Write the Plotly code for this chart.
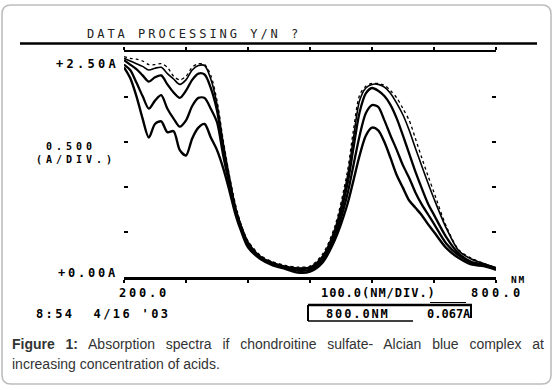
import json
import plotly.graph_objects as go

# ---------------- data ----------------
wavelength = [200, 210, 220, 230, 240, 250, 260, 270, 280, 290, 300, 310, 320, 330, 340,
              350, 360, 370, 380, 390, 400,
              420, 440, 460, 480, 500, 520, 540,
              560, 570, 580, 590, 600, 610, 620, 630, 640, 650, 660, 670, 680, 690, 700,
              720, 740, 760, 780, 800]

absorb_1 = [2.45, 2.43, 2.42, 2.40, 2.36, 2.36, 2.37, 2.33, 2.23, 2.19, 2.23, 2.33, 2.37, 2.36, 2.24,
            1.96, 1.52, 1.13, 0.80, 0.56, 0.40,
            0.24, 0.17, 0.13, 0.11, 0.12, 0.25, 0.56,
            1.16, 1.63, 2.02, 2.12, 2.15, 2.15, 2.13, 2.07, 1.99, 1.87, 1.74, 1.54, 1.33, 1.13, 0.94,
            0.56, 0.30, 0.21, 0.15, 0.10]
absorb_2 = [2.43, 2.40, 2.37, 2.34, 2.30, 2.32, 2.33, 2.26, 2.20, 2.14, 2.19, 2.30, 2.35, 2.35, 2.20,
            1.92, 1.49, 1.11, 0.77, 0.55, 0.39,
            0.23, 0.16, 0.12, 0.10, 0.11, 0.23, 0.53,
            1.10, 1.54, 1.96, 2.10, 2.14, 2.14, 2.11, 2.04, 1.93, 1.80, 1.63, 1.43, 1.24, 1.05, 0.87,
            0.54, 0.29, 0.20, 0.15, 0.10]
absorb_3 = [2.41, 2.36, 2.31, 2.24, 2.17, 2.22, 2.24, 2.14, 2.05, 1.99, 2.07, 2.19, 2.26, 2.25, 2.10,
            1.85, 1.43, 1.07, 0.75, 0.54, 0.37,
            0.22, 0.15, 0.11, 0.09, 0.10, 0.21, 0.50,
            1.02, 1.43, 1.83, 2.04, 2.10, 2.07, 2.01, 1.91, 1.76, 1.57, 1.37, 1.17, 0.99, 0.82, 0.69,
            0.44, 0.26, 0.17, 0.14, 0.10]
absorb_4 = [2.36, 2.30, 2.16, 2.01, 1.87, 1.96, 2.02, 1.87, 1.76, 1.67, 1.74, 1.90, 1.99, 1.99, 1.87,
            1.72, 1.35, 1.03, 0.73, 0.52, 0.36,
            0.21, 0.14, 0.10, 0.07, 0.08, 0.19, 0.45,
            0.91, 1.24, 1.57, 1.82, 1.91, 1.89, 1.74, 1.57, 1.41, 1.24, 1.10, 0.94, 0.81, 0.70, 0.59,
            0.37, 0.24, 0.16, 0.13, 0.09]
absorb_5 = [2.33, 2.21, 2.01, 1.76, 1.55, 1.70, 1.73, 1.61, 1.62, 1.41, 1.35, 1.54, 1.66, 1.70, 1.55,
            1.41, 1.21, 0.96, 0.69, 0.49, 0.33,
            0.20, 0.13, 0.09, 0.05, 0.06, 0.16, 0.41,
            0.80, 1.07, 1.35, 1.57, 1.66, 1.63, 1.50, 1.32, 1.13, 0.99, 0.85, 0.77, 0.69, 0.59, 0.50,
            0.32, 0.21, 0.14, 0.12, 0.08]

x_range = [200, 800]
y_range = [0, 2.5]
x_dtick = 100
y_dtick = 0.5

header_text = "DATA PROCESSING Y/N ?"
y_top_label = "+2.50A"
y_scale_label = " 0.500<br>(A/DIV.)"
y_zero_label = "+0.00A"
x_start_label = "200.0"
x_scale_label = "100.0(NM/DIV.)"
x_end_label = "800.0"
x_unit_label = "NM"
stamp_text = "8:54  4/16 '03"
cursor_wl = "800.0NM"
cursor_abs = "0.067A"
caption_1 = "<b>Figure 1:</b> Absorption spectra if chondroitine sulfate- Alcian blue complex at"
caption_2 = "increasing concentration of acids."

# ---------------- layout geometry ----------------
W, H = 555, 390
ML, MR, MT, MB = 124, 59, 52, 113
PW, PH = W - ML - MR, H - MT - MB


def px(x):
    return (x - ML) / PW


def py(y):
    return (H - MB - y) / PH


fig = go.Figure()

series = [absorb_1, absorb_2, absorb_3, absorb_4, absorb_5]
styles = [dict(width=1.3, dash="dot"), dict(width=1.6), dict(width=2.3), dict(width=2.3), dict(width=2.4)]
for s, st in zip(series, styles):
    fig.add_trace(go.Scatter(x=wavelength, y=s, mode="lines",
                             line=dict(color="black", shape="spline", smoothing=0.8, **st),
                             showlegend=False, hoverinfo="skip"))

MONO = "DejaVu Sans Mono"
anns = []


def ann(text, x, y, size=12, weight="bold", family=MONO, color="black", xanchor="left"):
    anns.append(dict(text=text, x=px(x), y=py(y), xref="paper", yref="paper",
                     xanchor=xanchor, yanchor="middle", align="left", showarrow=False,
                     borderpad=0,
                     font=dict(family=family, size=size, color=color, weight=weight)))


ann(header_text, 86, 33.5, weight="normal", color="#222")
ann(y_top_label, 55, 64)
ann(y_scale_label, 35, 152.5, size=10)
ann(y_zero_label, 57, 272.5)
ann(x_start_label, 118, 292.5)
ann(x_scale_label, 320, 292.5)
ann(x_end_label, 470, 293)
ann(x_unit_label, 510, 279.5, size=9.5)
ann(stamp_text, 35, 313.5)
ann(cursor_wl, 325, 314)
ann(cursor_abs, 426, 314)
ann(caption_1, 11, 344, size=14, weight="normal", family="Liberation Sans, Arial", color="#333")
ann(caption_2, 11, 363.5, size=14, weight="normal", family="Liberation Sans, Arial", color="#333")

# character pitch (px per character) of the printer-style labels
pitch = {header_text: 10.2, y_top_label: 10.5, x_scale_label: 8.2, x_end_label: 10.5,
         stamp_text: 9.6, cursor_wl: 9.1, cursor_abs: 7.2, x_unit_label: 7.5}

shapes = []


def line(x0, y0, x1, y1, width=2, color="black"):
    shapes.append(dict(type="line", xref="paper", yref="paper",
                       x0=px(x0), y0=py(y0), x1=px(x1), y1=py(y1),
                       line=dict(color=color, width=width)))


# outer rounded frame
r = 9
x0, y0, x1, y1 = 2, 5, 551, 384
path = (f"M {px(x0 + r)},{py(y0)} L {px(x1 - r)},{py(y0)} Q {px(x1)},{py(y0)} {px(x1)},{py(y0 + r)} "
        f"L {px(x1)},{py(y1 - r)} Q {px(x1)},{py(y1)} {px(x1 - r)},{py(y1)} "
        f"L {px(x0 + r)},{py(y1)} Q {px(x0)},{py(y1)} {px(x0)},{py(y1 - r)} "
        f"L {px(x0)},{py(y0 + r)} Q {px(x0)},{py(y0)} {px(x0 + r)},{py(y0)} Z")
shapes.append(dict(type="path", xref="paper", yref="paper", path=path,
                   line=dict(color="#bdbdbd", width=1.6)))

# header rule
line(20, 43.5, 537, 43.5, width=2.5)
# cursor readout box
line(308, 305, 472, 305, width=2.5)
line(308, 305, 308, 321, width=2)
line(308, 321, 413, 321, width=1.5)
line(471, 305, 471, 318, width=2)
line(430, 302.5, 466, 302.5, width=1.2)

fig.update_layout(
    width=W, height=H, autosize=False,
    margin=dict(l=ML, r=MR, t=MT, b=MB, pad=0),
    paper_bgcolor="white", plot_bgcolor="white",
    annotations=anns, shapes=shapes,
    xaxis=dict(range=x_range, dtick=x_dtick, tick0=x_range[0], showgrid=False, zeroline=False,
               showline=True, linecolor="black", linewidth=2.5, mirror="ticks",
               ticks="outside", ticklen=3, tickwidth=2, tickcolor="black",
               showticklabels=False, fixedrange=True),
    yaxis=dict(range=y_range, dtick=y_dtick, tick0=0, showgrid=False, zeroline=False,
               showline=False, mirror="ticks", ticks="inside", ticklen=4, tickwidth=2,
               tickcolor="black", showticklabels=False, fixedrange=True),
)

pitch_js = json.dumps({k.replace("<br>", ""): v for k, v in pitch.items()})
post = """
document.body.style.margin = '0';
var gd = document.getElementById('{plot_id}');
var PITCH = __PITCH__;
gd.querySelectorAll('text.annotation-text').forEach(function(t){
  var ff = t.style.fontFamily || '';
  var fs = parseFloat(t.style.fontSize) || 12;
  var tc = t.textContent || '';
  if (ff.indexOf('Mono') >= 0) {
    var p = (tc in PITCH) ? PITCH[tc] : 10;
    var ls = Math.max(0, p - 0.602 * fs);
    t.style.letterSpacing = ls + 'px';
  }
  if (tc.indexOf('Figure 1:') === 0) {
    var len = t.getComputedTextLength();
    var n = (tc.match(/ /g) || []).length;
    var target = 532;
    if (n > 0 && len < target) { t.style.wordSpacing = ((target - len) / n) + 'px'; }
  }
});
""".replace("__PITCH__", pitch_js)

fig.write_html("out.html", post_script=post, config={"displayModeBar": False, "staticPlot": True})
